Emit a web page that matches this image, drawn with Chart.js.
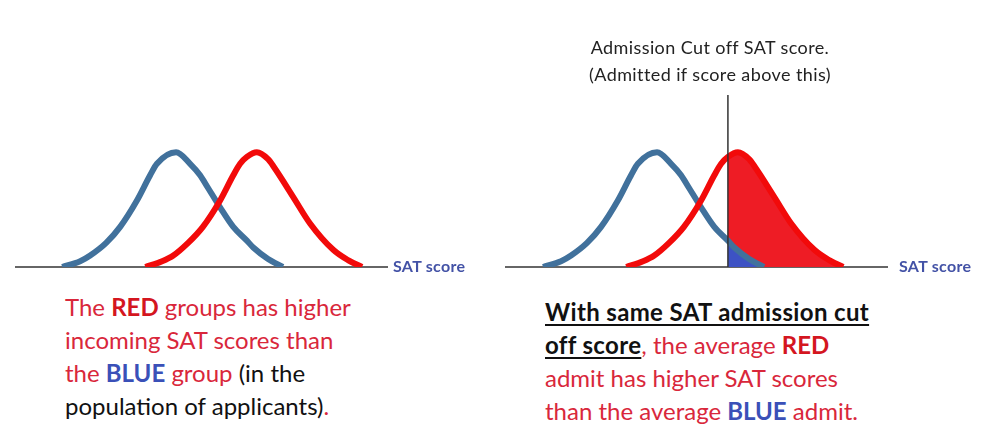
<!DOCTYPE html>
<html>
<head>
<meta charset="utf-8">
<script src="https://cdn.jsdelivr.net/npm/chart.js@4.4.1/dist/chart.umd.min.js"></script>
<style>
  body { margin: 0; width: 1000px; height: 446px; background: #fff; position: relative; overflow: hidden; font-family: Lato, "Open Sans", sans-serif; }
  canvas { position: absolute; top: 0; }
  #leftChart { left: 0; }
  #rightChart { left: 500px; }
  .axisLabel { position: absolute; top: 256px; font-size: 16px; letter-spacing: 0.3px; font-weight: bold; color: #4352a6; }
  .cutNote { position: absolute; left: 575px; top: 34px; width: 270px; text-align: center; font-size: 18px; letter-spacing: 0.4px; line-height: 27px; color: #222; }
  .para { position: absolute; font-size: 24px; line-height: 33px; color: #d9273b; white-space: nowrap; }
  .para b.r { color: #d4161f; }
  .para b.b { color: #3a50b8; }
  .para .k { color: #111; }
  .para u { color: #111; font-weight: bold; letter-spacing: 0.35px; text-decoration-thickness: 2px; text-underline-offset: 3px; }
</style>
</head>
<body>
<canvas id="leftChart" width="500" height="290"></canvas>
<canvas id="rightChart" width="500" height="290"></canvas>

<div class="axisLabel" style="left:393px">SAT score</div>
<div class="axisLabel" style="left:899px">SAT score</div>

<div class="cutNote">Admission Cut off SAT score.<br>(Admitted if score above this)</div>

<div class="para" style="left:65px; top:290px">The <b class="r">RED</b> groups has higher<br>incoming SAT scores than<br>the <b class="b">BLUE</b> group<span class="k"> (in the<br>population of applicants)</span>.</div>

<div class="para" style="left:545px; top:295px"><u>With same SAT admission cut<br>off score</u>, the average <b class="r">RED</b><br>admit has higher SAT scores<br>than the average <b class="b">BLUE</b> admit.</div>

<script>
// applicant score distributions (peak = 1)
const blueScores = [800, 845, 870, 910, 945, 987, 1020, 1037, 1085, 1120, 1145, 1163, 1195, 1228, 1262, 1278, 1315, 1352];
const blueDensity = [0, 0.05, 0.10, 0.21, 0.35, 0.58, 0.80, 0.90, 1.00, 0.90, 0.80, 0.70, 0.52, 0.35, 0.23, 0.17, 0.07, 0];

const redScores = [1008, 1050, 1078, 1115, 1152, 1195, 1228, 1245, 1262, 1287, 1315, 1330, 1378, 1420, 1478, 1515, 1550];
const redDensity = [0, 0.05, 0.10, 0.21, 0.35, 0.58, 0.80, 0.90, 0.96, 1.00, 0.94, 0.87, 0.61, 0.38, 0.15, 0.06, 0];

const cutoffScore = 1262;

const blueLine = '#41719c';
const redLine = '#f20a0a';
const redFill = '#ee1c25';
const blueFill = '#3d52c4';

function toPoints(xs, ys) {
    return xs.map((x, i) => ({x: x, y: ys[i]}));
}

function curve(xs, ys, color) {
    return {
        data: toPoints(xs, ys),
        borderColor: color,
        borderWidth: 6,
        pointRadius: 0,
        cubicInterpolationMode: 'monotone',
        fill: false
    };
}

// filled area under a curve, only right of the cutoff
function admitted(xs, ys, color) {
    return {
        data: toPoints(xs, ys),
        borderColor: 'rgba(0,0,0,0)',
        borderWidth: 0,
        pointRadius: 0,
        cubicInterpolationMode: 'monotone',
        fill: 'origin',
        backgroundColor: 'rgba(0,0,0,0)',
        segment: {
            backgroundColor: ctx => ctx.p0.parsed.x >= cutoffScore ? color : 'rgba(0,0,0,0)'
        }
    };
}

function guides(cut) {
    return {
        id: 'guides',
        beforeDatasetsDraw(chart) {
            const {ctx, chartArea, scales} = chart;
            const y0 = scales.y.getPixelForValue(0);
            ctx.save();
            ctx.strokeStyle = '#333';
            ctx.lineWidth = 1.5;
            ctx.beginPath();
            ctx.moveTo(chartArea.left, y0);
            ctx.lineTo(chartArea.right, y0);
            ctx.stroke();
            ctx.restore();
        },
        afterDatasetsDraw(chart) {
            if (cut == null) return;
            const {ctx, chartArea, scales} = chart;
            const x = scales.x.getPixelForValue(cut);
            ctx.save();
            ctx.strokeStyle = '#333';
            ctx.lineWidth = 1.5;
            ctx.beginPath();
            ctx.moveTo(x, chartArea.top);
            ctx.lineTo(x, scales.y.getPixelForValue(0));
            ctx.stroke();
            ctx.restore();
        }
    };
}

function baseOptions(xMin, xMax, padLeft) {
    return {
        responsive: false,
        animation: false,
        layout: { padding: { left: padLeft, right: 112, top: 95, bottom: 23 } },
        plugins: { legend: { display: false }, tooltip: { enabled: false } },
        scales: {
            x: { type: 'linear', min: xMin, max: xMax, display: false },
            y: { min: 0, max: 1.5, display: false }
        }
    };
}

new Chart('leftChart', {
    type: 'line',
    data: {
        datasets: [
            curve(redScores, redDensity, redLine),
            curve(blueScores, blueDensity, blueLine)
        ]
    },
    options: baseOptions(682, 1615, 15),
    plugins: [guides(null)]
});

new Chart('rightChart', {
    type: 'line',
    data: {
        datasets: [
            curve(redScores, redDensity, redLine),
            curve(blueScores, blueDensity, blueLine),
            admitted(blueScores, blueDensity, blueFill),
            admitted(redScores, redDensity, redFill)
        ]
    },
    options: baseOptions(705, 1662, 5),
    plugins: [guides(cutoffScore)]
});
</script>
</body>
</html>
